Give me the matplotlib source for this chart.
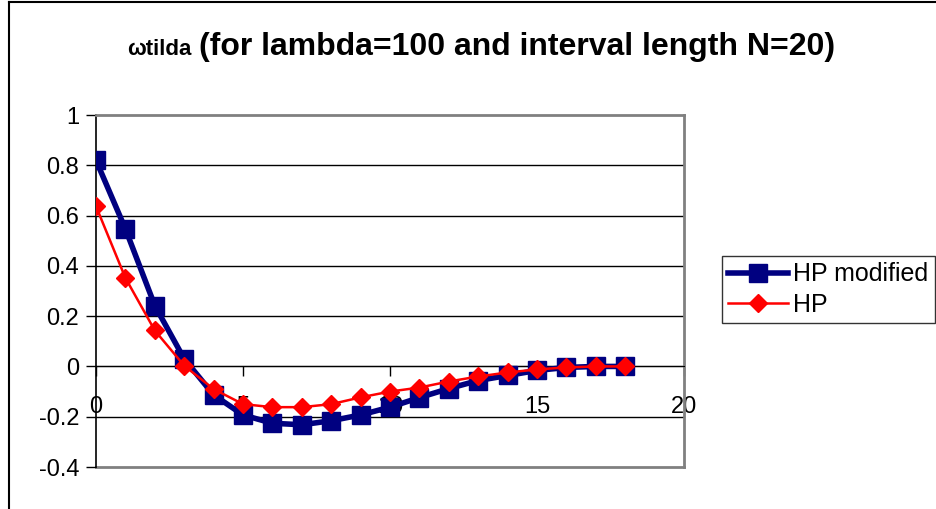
import numpy as np
import matplotlib
matplotlib.use("Agg")
from matplotlib import pyplot as plt
from matplotlib.lines import Line2D

# values
x = list(range(19))
hp_modified = [0.82, 0.547, 0.242, 0.03, -0.113, -0.193, -0.226, -0.232, -0.216,
               -0.193, -0.162, -0.124, -0.088, -0.056, -0.036, -0.016, -0.004, 0.0, 0.0]
hp = [0.637, 0.352, 0.143, 0.003, -0.09, -0.15, -0.162, -0.162, -0.15,
      -0.123, -0.1, -0.084, -0.06, -0.04, -0.024, -0.012, -0.004, 0.0, 0.0]
xticks = [0, 5, 10, 15, 20]
yticks = [-0.4, -0.2, 0, 0.2, 0.4, 0.6, 0.8, 1]

plt.rcParams['font.family'] = ['Liberation Sans', 'DejaVu Sans']

fig = plt.figure(figsize=(9.37, 5.09), dpi=100)
ax = fig.add_axes([96/937, 42/509, 588/937, 352/509])

ax.plot(x, hp_modified, color='#000080', lw=4, marker='s', ms=13,
        label='HP modified', zorder=3)
ax.plot(x, hp, color='#ff0000', lw=1.8, marker='D', ms=9,
        label='HP', zorder=4)

ax.set_xlim(0, 20)
ax.set_ylim(-0.4, 1)
ax.set_yticks(yticks)
ax.set_yticklabels(['-0.4', '-0.2', '0', '0.2', '0.4', '0.6', '0.8', '1'])
ax.set_xticks(xticks)
ax.set_xticklabels([str(t) for t in xticks])
ax.tick_params(axis='both', labelsize=17, length=7, width=1, color='black')
ax.tick_params(axis='y', pad=5)
ax.tick_params(axis='x', direction='out', pad=14)

for g in [-0.2, 0, 0.2, 0.4, 0.6, 0.8]:
    ax.axhline(g, color='black', lw=1, zorder=1)

# x axis sits at y=0
ax.spines['bottom'].set_position(('data', 0))
ax.spines['bottom'].set_color('black')
ax.spines['left'].set_color('black')
ax.spines['left'].set_linewidth(1.2)
ax.spines['top'].set_color('#808080')
ax.spines['top'].set_linewidth(2)
ax.spines['right'].set_color('#808080')
ax.spines['right'].set_linewidth(2)
ax.axhline(-0.4, color='#808080', lw=2, zorder=1, clip_on=False)

leg = ax.legend(loc='upper left', bbox_to_anchor=(722/937, 253/509),
                bbox_transform=fig.transFigure, fontsize=18, frameon=True,
                fancybox=False, edgecolor='black', borderpad=0.25,
                handlelength=2.4, handletextpad=0.2, labelspacing=0.25,
                borderaxespad=0)
leg.get_frame().set_linewidth(1)

fig.text(192/937, (509-55)/509, 'ωtilda', fontsize=16, fontweight='bold',
         ha='right', va='baseline')
fig.text(199/937, (509-55)/509, '(for lambda=100 and interval length N=20)',
         fontsize=23, fontweight='bold', ha='left', va='baseline')

# outer chart frame
fig.add_artist(Line2D([9/937, 1], [1 - 2/509, 1 - 2/509], color='black', lw=1.5,
                      transform=fig.transFigure))
fig.add_artist(Line2D([9/937, 9/937], [0, 1 - 2/509], color='black', lw=1.5,
                      transform=fig.transFigure))

fig.savefig('out.png', dpi=100)
